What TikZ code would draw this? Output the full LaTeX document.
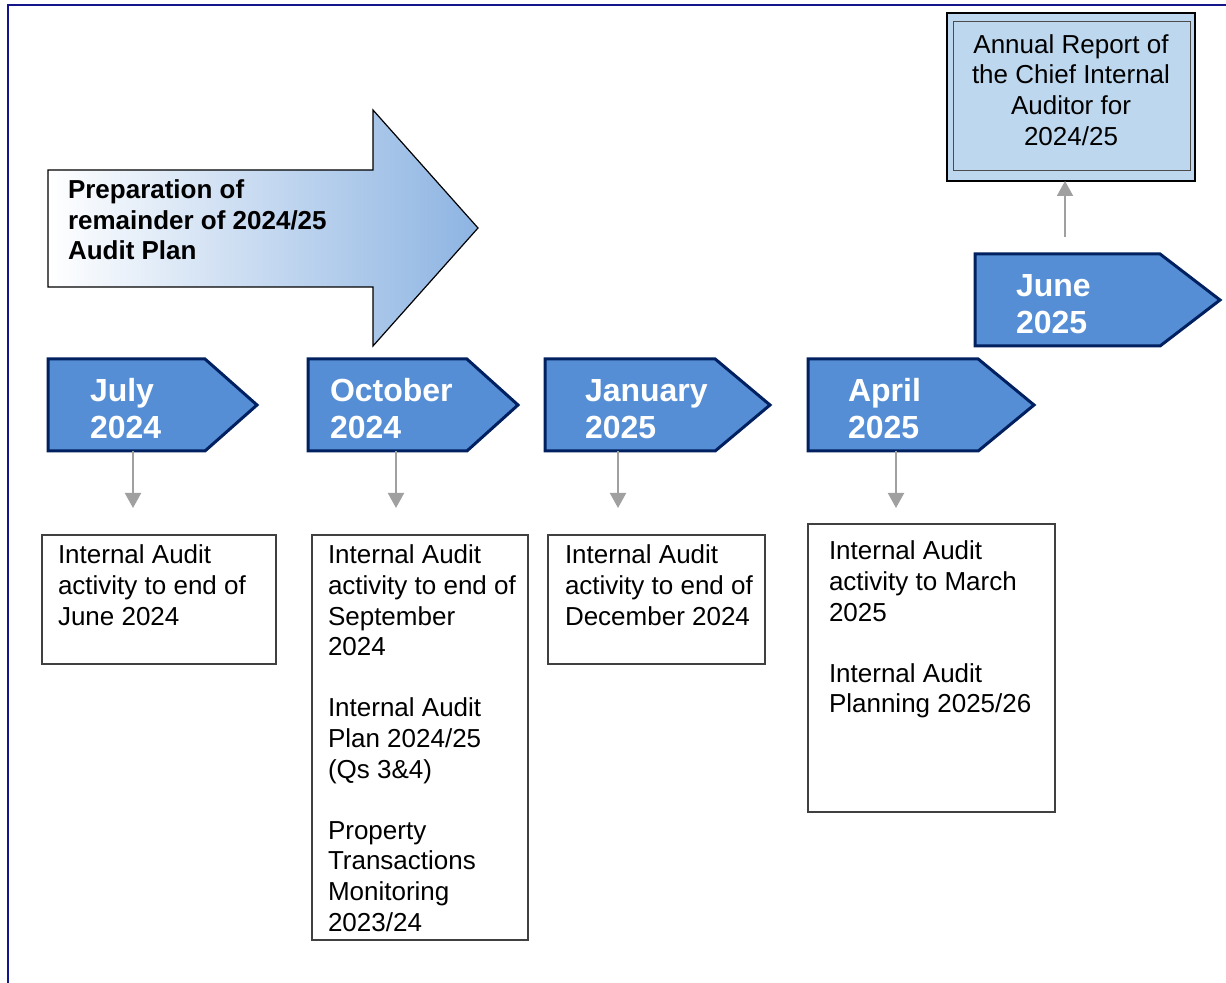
\documentclass[tikz,border=0pt]{standalone}
\usepackage{fontspec}
\setmainfont{Liberation Sans}
\usetikzlibrary{arrows.meta, positioning, shapes.symbols}

\definecolor{navy}{RGB}{0,32,96}
\definecolor{monthblue}{RGB}{85,142,213}
\definecolor{planblue}{RGB}{141,180,226}
\definecolor{reportblue}{RGB}{189,215,238}
\definecolor{linkgrey}{RGB}{160,160,160}
\definecolor{framenavy}{RGB}{20,20,140}

\begin{document}
\begin{tikzpicture}[x=0.5pt, y=-0.5pt, >={Triangle[width=8pt,length=7.5pt]},
  every node/.style={inner sep=0pt, outer sep=0pt},
  month/.style={signal, signal to=east, signal from=nowhere, draw=navy, line width=1.5pt,
    fill=monthblue, minimum height=46pt, anchor=west},
  monthlbl/.style={text=white, align=left, yshift=-2pt, font=\fontsize{16}{18.5}\selectfont\bfseries},
  outbox/.style={draw=black!75, line width=0.6pt, anchor=north west},
  boxtxt/.style={align=left, font=\fontsize{13}{15.3}\selectfont},
  flow/.style={->, draw=linkgrey, fill=linkgrey, line width=1pt}]

  \useasboundingbox (0,0) rectangle (1226,983);
  \draw [framenavy, line width=1pt] (8,983) -- (8,5) -- (1226,5);

  % planning arrow
  \shade [left color=white, right color=planblue, draw=black, line width=0.6pt]
    (48,170) -- (373,170) -- (373,110) -- (478,228) -- (373,346) -- (373,287) -- (48,287) -- cycle;
  \node (prep) at (68,180) [anchor=north west, align=left, font=\fontsize{13}{15.25}\selectfont\bfseries]
    {Preparation of\\remainder of 2024/25\\Audit Plan};

  % months
  \node (jul) at (48,405) [month, minimum width=104.5pt, signal pointer angle=83] {};
  \node (oct) at (308,405) [month, minimum width=105pt, signal pointer angle=84] {};
  \node (jan) at (545,405) [month, minimum width=112.5pt, signal pointer angle=80] {};
  \node (apr) at (808,405) [month, minimum width=113pt, signal pointer angle=79] {};
  \node (jun) at (975,300) [month, minimum width=122.5pt, signal pointer angle=75] {};
  \node (jullbl) [monthlbl, right=21pt of jul.west] {July\\2024};
  \node (octlbl) [monthlbl, right=11pt of oct.west] {October\\2024};
  \node (janlbl) [monthlbl, right=20pt of jan.west] {January\\2025};
  \node (aprlbl) [monthlbl, right=20pt of apr.west] {April\\2025};
  \node (junlbl) [monthlbl, right=20.5pt of jun.west] {June\\2025};

  % annual report
  \node (report) at (947,13) [outbox, draw=black, line width=1pt, fill=reportblue,
    minimum width=124pt, minimum height=84pt] {};
  \draw [black!70, line width=0.5pt] ([shift={(6,9)}]report.north west) rectangle ([shift={(-5,-10)}]report.south east);
  \node (reptxt) at (1071,90) [boxtxt, align=center]
    {Annual Report of\\the Chief Internal\\Auditor for\\2024/25};

  % reporting boxes
  \node (julbox) at (42,535) [outbox, minimum width=117pt, minimum height=64.5pt] {};
  \node (octbox) at (312,535) [outbox, minimum width=108pt, minimum height=202.5pt] {};
  \node (janbox) at (548,535) [outbox, minimum width=108.5pt, minimum height=64.5pt] {};
  \node (aprbox) at (808,524) [outbox, minimum width=123.5pt, minimum height=144pt] {};

  \node (jultxt) [boxtxt, below right=5pt and 8pt of julbox.north west]
    {Internal Audit\\activity to end of\\June 2024};
  \node (octtxt) [boxtxt, below right=5pt and 8pt of octbox.north west]
    {Internal Audit\\activity to end of\\September\\2024\\[15.3pt]Internal Audit\\Plan 2024/25\\(Qs 3\&4)\\[15.3pt]Property\\Transactions\\Monitoring\\2023/24};
  \node (jantxt) [boxtxt, below right=5pt and 8.5pt of janbox.north west]
    {Internal Audit\\activity to end of\\December 2024};
  \node (aprtxt) [boxtxt, below right=8.5pt and 10.5pt of aprbox.north west]
    {Internal Audit\\activity to March\\2025\\[15.3pt]Internal Audit\\Planning 2025/26};

  % links
  \coordinate (julx) at (133,508);
  \coordinate (octx) at (396,508);
  \coordinate (janx) at (618,508);
  \coordinate (aprx) at (896,508);
  \coordinate (junx) at (1065,237);
  \draw [flow] (jul.south -| julx) -- (julx);
  \draw [flow] (oct.south -| octx) -- (octx);
  \draw [flow] (jan.south -| janx) -- (janx);
  \draw [flow] (apr.south -| aprx) -- (aprx);
  \draw [flow] (junx) -- (report.south -| junx);
\end{tikzpicture}
\end{document}
